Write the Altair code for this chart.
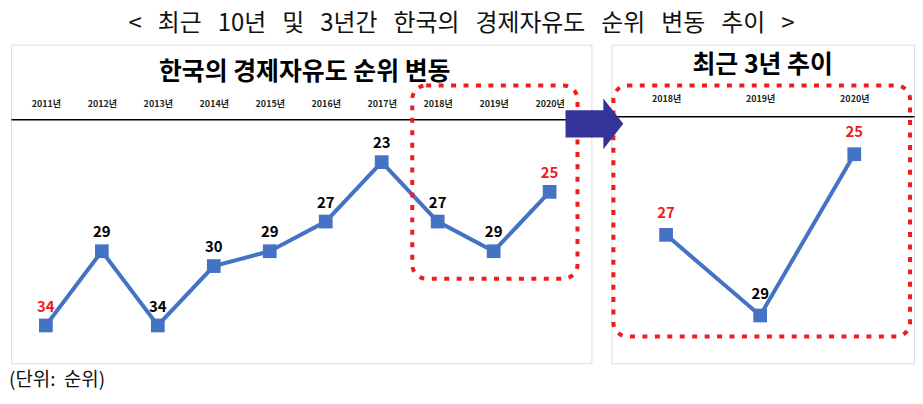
import altair as alt
import pandas as pd

# 경제자유도 순위 (Heritage Foundation), 2011~2020
years = [2011, 2012, 2013, 2014, 2015, 2016, 2017, 2018, 2019, 2020]
ranks = [34, 29, 34, 30, 29, 27, 23, 27, 29, 25]
red_years_all = [2011, 2020]

recent_years = [2018, 2019, 2020]
recent_ranks = [27, 29, 25]
red_years_recent = [2018, 2020]

main_title = '< 최근 10년 및 3년간 한국의 경제자유도 순위 변동 추이 >'
left_title = '한국의 경제자유도 순위 변동'
right_title = '최근 3년 추이'
unit_note = '(단위: 순위)'

FONT = 'Noto Sans CJK KR'
BLUE = '#4472C4'
RED = '#F01C1C'
NAVY = '#333399'
ARROW = 'M-1,-0.47 L0.31,-0.47 L0.31,-0.88 L1,0 L0.31,0.88 L0.31,0.47 L-1,0.47 Z'


def wide(text, n):
    # svg collapses plain spaces, so pad word gaps with no-break spaces
    return text.replace(' ', ' ' + '\u00a0' * n)


def make_frame(yrs, rks, reds):
    df = pd.DataFrame({'year': yrs, 'rank': rks})
    df['label_color'] = ['red' if y in reds else 'black' for y in yrs]
    return df


def rank_panel(df, width, height, x_domain, y_domain, box, axis_offset,
               label_pad, title, title_x, title_y, label_dy):
    x = alt.X('year:Q',
              scale=alt.Scale(domain=x_domain, nice=False, zero=False),
              axis=alt.Axis(orient='top', values=list(df['year']),
                            labelExpr="datum.value + '년'", title=None,
                            grid=False, ticks=False, domainColor='black',
                            domainWidth=1.5, labelFont=FONT,
                            labelFontSize=9, labelFontWeight='bold',
                            labelColor='#222222', labelPadding=label_pad,
                            offset=axis_offset))
    y = alt.Y('rank:Q',
              scale=alt.Scale(domain=y_domain, nice=False, zero=False,
                              reverse=True),
              axis=None)

    base = alt.Chart(df)
    line = base.mark_line(color=BLUE, strokeWidth=4).encode(x=x, y=y)
    points = base.mark_square(size=190, color=BLUE, opacity=1).encode(x=x, y=y)
    labels = base.mark_text(dy=label_dy, font=FONT, fontSize=15,
                            fontWeight='bold').encode(
        x=x, y=y, text='rank:Q',
        color=alt.Color('label_color:N', scale=alt.Scale(
            domain=['red', 'black'], range=[RED, 'black']), legend=None))

    box_df = pd.DataFrame([box])
    frame = alt.Chart(box_df).mark_rect(
        fillOpacity=0, stroke=RED, strokeWidth=4, strokeDash=[5, 7.5],
        cornerRadius=14
    ).encode(x='x:Q', x2='x2:Q', y='y:Q', y2='y2:Q')

    head = alt.Chart(pd.DataFrame({'t': [title]})).mark_text(
        font=FONT, fontSize=25, fontWeight='bold', baseline='middle'
    ).encode(text='t:N', x=alt.value(title_x), y=alt.value(title_y))

    return alt.layer(line, points, labels, frame, head).properties(
        width=width, height=height)


left_df = make_frame(years, ranks, red_years_all)
right_df = make_frame(recent_years, recent_ranks, red_years_recent)

left = rank_panel(left_df, 583, 320, [2010.377, 2020.747], [15.086, 36.548],
                  {'x': 2017.546, 'x2': 2020.498, 'y': 17.836, 'y2': 30.847},
                  -75, 11, left_title, 295, 27, -19)

note = alt.Chart(pd.DataFrame({'t': [wide(unit_note, 1)]})).mark_text(
    font=FONT, fontSize=19, align='left', baseline='middle', color='#111111'
).encode(text='t:N', x=alt.value(-2), y=alt.value(337))
left = alt.layer(left, note)

right = rank_panel(right_df, 304, 320, [2017.418, 2020.635], [22.284, 30.185],
                   {'x': 2017.44, 'x2': 2020.593, 'y': 23.296, 'y2': 29.519},
                   -72, 13, right_title, 152, 20, -22)

arrow = alt.Chart(pd.DataFrame({'a': [1]})).mark_point(
    shape=ARROW, size=3364, filled=True, color=NAVY, opacity=1
).encode(x=alt.value(-17), y=alt.value(79.5))
right = alt.layer(right, arrow)

chart = alt.hconcat(left, right, spacing=20, bounds='flush').properties(
    title=alt.TitleParams(wide(main_title, 2), font=FONT, fontSize=24,
                          fontWeight='normal', anchor='middle', offset=8,
                          color='#111111'),
    padding={'top': 3, 'left': 0, 'right': 0, 'bottom': 0}
).configure_view(
    fill='#EFEFEF', stroke='#DDDDDD'
).configure(background='white')

chart.save("out.html", embed_options={"renderer": "svg", "actions": False})
